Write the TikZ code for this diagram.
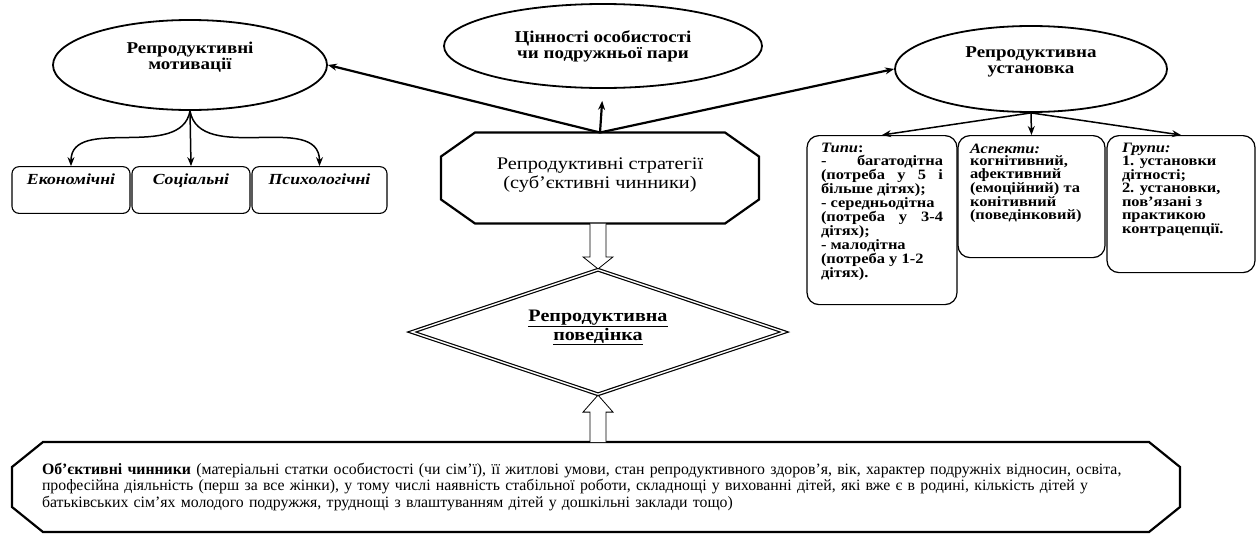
\documentclass[tikz,border=0pt]{standalone}
\usepackage{fontspec}
\setmainfont{Liberation Serif}
\newfontfamily\widefont[FakeStretch=1.15]{Liberation Serif}
\usetikzlibrary{shapes.geometric,arrows.meta,calc}

\newcommand{\topbox}[3]{\parbox[c][#1][t]{#2}{\widefont\fontsize{14.3}{12.7}\selectfont\bfseries #3}}
\newcommand{\octpath}[3]{($(#1.north west)+(#2,0)$) -- ($(#1.north east)+(-#2,0)$)
  -- ($(#1.north east)+(0,-#3)$) -- ($(#1.south east)+(0,#3)$) -- ($(#1.south east)+(-#2,0)$)
  -- ($(#1.south west)+(#2,0)$) -- ($(#1.south west)+(0,#3)$) -- ($(#1.north west)+(0,-#3)$) -- cycle}

\begin{document}
\begin{tikzpicture}[x=1pt,y=1pt,
  >={Stealth[length=9pt,width=7pt]},
  oval/.style={ellipse,draw,line width=1.8pt,inner sep=0pt,align=center,
    font=\widefont\fontsize{16.5}{16}\selectfont\bfseries},
  small/.style={draw,rounded corners=7pt,line width=1.1pt,inner xsep=0pt,
    inner ysep=7pt,text depth=22pt,font=\widefont\fontsize{15.4}{16}\selectfont\bfseries\itshape},
  card/.style={draw,rounded corners=12pt,line width=1.2pt,anchor=north,inner ysep=8pt},
  octa/.style={rectangle,inner sep=0pt,outer sep=0pt},
  oct line/.style={line width=2.2pt,line join=miter},
  thick line/.style={line width=2.2pt,->},
  thin arrow/.style={line width=1.5pt,->},
  hollow/.style={line width=0.8pt,fill=white}]
  \useasboundingbox (0,0) rectangle (1257,-533);
  \node[oval,minimum width=274pt,minimum height=90pt,text depth=18pt] (motiv) at (190,-65)
    {Репродуктивні\\мотивації};
  \node[oval,minimum width=318pt,minimum height=84pt] (value) at (603,-46)
    {Цінності особистості\\чи подружньої пари};
  \node[oval,minimum width=272pt,minimum height=86pt,text depth=18pt] (attit) at (1031,-69)
    {Репродуктивна\\установка};
  \node[small,minimum width=118pt] (econ) at (71,-190) {Економічні};
  \node[small,minimum width=118pt] (soc) at (191,-190) {Соціальні};
  \node[small,minimum width=135pt] (psych) at (319.5,-190) {Психологічні};
  \node[octa,minimum width=318pt,minimum height=91pt,align=center,text depth=10pt,
    font=\widefont\fontsize{17.7}{19}\selectfont] (strat) at (600,-178)
    {Репродуктивні стратегії\\(суб’єктивні чинники)};
  \draw[oct line] \octpath{strat}{34}{24};
  \node[diamond,aspect=3,draw,double,double distance=1.4pt,line width=1.2pt,minimum width=373pt,
    minimum height=125pt,inner sep=0pt,align=center,text depth=14pt,
    font=\widefont\fontsize{17.5}{16}\selectfont\bfseries] (behav) at (598,-332)
    {\underline{Репродуктивна}\\\underline{поведінка}};
  \node[card,inner xsep=14pt] (types) at (882,-135) {\topbox{153pt}{122pt}{%
    \textit{Типи}:\\
    -\hfill багатодітна\\
    (потреба\hfill у\hfill 5\hfill і\\
    більше дітях);\\
    - середньодітна\\
    (потреба\hfill у\hfill 3-4\\
    дітях);\\
    - малодітна\\
    (потреба у 1-2\\
    дітях).}};
  \node[card,inner xsep=12pt] (aspec) at (1031.5,-135) {\topbox{106pt}{123pt}{%
    \textit{Аспекти:}\\
    когнітивний,\\
    афективний\\
    (емоційний) та\\
    конітивний\\
    (поведінковий)}};
  \node[card,inner xsep=15pt] (group) at (1181,-135) {\topbox{121pt}{118pt}{%
    \textit{Групи:}\\
    1. установки\\
    дітності;\\
    2. установки,\\
    пов’язані з\\
    практикою\\
    контрацепції.}};
  \node[octa,minimum width=1168pt,minimum height=90pt,text width=1108pt,align=left,
    font=\fontsize{15.8}{16.5}\selectfont] (objec) at (596,-487)
    {\textbf{Об’єктивні чинники} (матеріальні статки особистості (чи сім’ї), її житлові умови, стан репродуктивного здоров’я, вік, характер подружніх відносин, освіта,\\
    професійна діяльність (перш за все жінки), у тому числі наявність стабільної роботи, складнощі у вихованні дітей, які вже є в родині, кількість дітей у\\
    батьківських сім’ях молодого подружжя, труднощі з влаштуванням дітей у дошкільні заклади тощо)};
  \draw[oct line] \octpath{objec}{31}{25};

  \draw[thick line] (strat.north) -- (motiv.east);
  \draw[thick line,shorten >=12pt] (strat.north) -- (value.south);
  \draw[thick line] (strat.north) -- (attit.west);
  \draw[thin arrow] (motiv.south) to[out=-100,in=90] (econ.north);
  \draw[thin arrow] (motiv.south) -- (soc.north);
  \draw[thin arrow] (motiv.south) to[out=-80,in=90] (psych.north);
  \draw[thin arrow] (attit.south) -- (types.north);
  \draw[thin arrow] (attit.south) -- (aspec.north);
  \draw[thin arrow] (attit.south) -- (group.north);
  \draw[hollow] ($(strat.south -| behav.north)+(-8,0)$) -- ($(behav.north)+(-8,12)$) -- ++(-7,0)
    -- (behav.north) -- ($(behav.north)+(15,12)$) -- ++(-7,0) -- ($(strat.south -| behav.north)+(8,0)$);
  \draw[hollow] ($(objec.north -| behav.south)+(-8,0)$) -- ($(behav.south)+(-8,-17)$) -- ++(-7,0)
    -- (behav.south) -- ($(behav.south)+(15,-17)$) -- ++(-7,0) -- ($(objec.north -| behav.south)+(8,0)$);
\end{tikzpicture}
\end{document}
